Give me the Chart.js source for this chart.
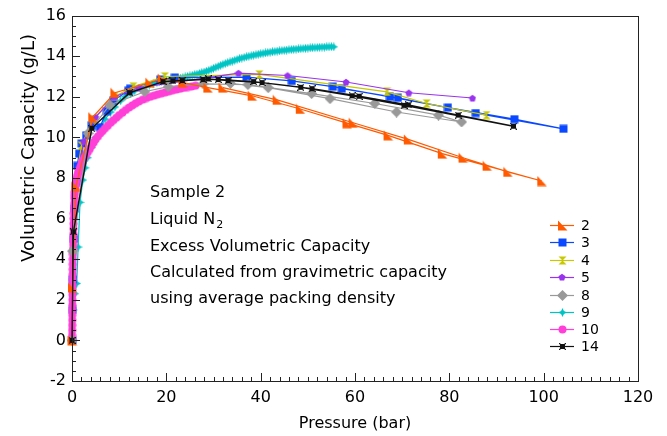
<!DOCTYPE html>
<html>
<head>
<meta charset="utf-8">
<script src="https://cdn.jsdelivr.net/npm/chart.js@4"></script>
<style>
html,body{margin:0;padding:0;background:#fff;}
#wrap{width:667px;height:436px;position:relative;}
</style>
</head>
<body>
<div id="wrap"><canvas id="c" width="667" height="436"></canvas></div>
<script>
// ---------- data (pressure in bar, volumetric capacity in g/L) ----------
const seriesNames = ["2","3","4","5","8","9","10","14"];

const s2x = [0, 0.1, 0.85, 4.4, 9.1, 16.5, 19.1, 23.5, 28.8, 38.2, 48.4, 58.3, 67.0, 78.5, 88.0, 99.6, 92.4, 82.9, 71.3, 59.6, 43.5, 32.0];
const s2y = [0, 2.6, 7.6, 11.0, 12.2, 12.7, 12.9, 12.7, 12.45, 12.05, 11.4, 10.7, 10.1, 9.2, 8.6, 7.85, 8.3, 9.0, 9.9, 10.72, 11.85, 12.45];

const s3x = [0, 0.1, 0.2, 0.4, 0.6, 0.9, 1.1, 1.5, 2.05, 3.0, 4.2, 5.9, 7.4, 8.7, 11.9, 12.3, 18.7, 21.8, 37.0, 46.6, 55.3, 67.4, 79.7, 93.8, 104.2, 85.6, 69.1, 57.2];
const s3y = [0, 1.5, 3.0, 5.0, 6.5, 7.8, 8.6, 9.2, 9.7, 10.1, 10.6, 10.5, 11.3, 11.8, 12.3, 12.4, 12.85, 12.95, 12.97, 12.78, 12.5, 12.0, 11.47, 10.9, 10.42, 11.2, 11.95, 12.4];

const s4x = [0, 0.3, 0.8, 2.0, 4.5, 9.0, 13.0, 19.7, 39.7, 66.8, 75.2, 87.9];
const s4y = [0, 4.5, 7.8, 9.6, 10.9, 12.0, 12.5, 13.0, 13.1, 12.24, 11.67, 11.1];

const s5x = [0, 0.4, 1.0, 2.5, 5.0, 9.0, 14.2, 35.3, 45.7, 58.1, 71.4, 84.9];
const s5y = [0, 5.0, 8.0, 9.8, 11.0, 12.0, 12.45, 13.17, 13.05, 12.73, 12.2, 11.94];

const s8x = [0, 0.1, 3.4, 8.0, 15.4, 20.4, 27.8, 37.3, 50.8, 64.2, 77.7, 82.6, 68.8, 54.7, 41.6, 33.6];
const s8y = [0, 4.4, 10.2, 11.6, 12.25, 12.5, 12.64, 12.6, 12.16, 11.67, 11.1, 10.76, 11.25, 11.91, 12.45, 12.66];

const s9x = [0, 0.3, 0.6, 1.0, 1.3, 1.7, 2.3, 2.8, 3.3, 4.1, 5.0, 6.1, 7.0, 8.2, 9.1, 10.3, 11.2, 12.4, 13.3, 14.5, 15.6, 16.4, 17.2,
  18, 18.5, 19, 19.5, 20, 20.5, 21, 21.5, 22, 22.5, 23, 23.5, 24, 24.5, 25, 25.5, 26, 26.5, 27, 27.5, 28, 28.5, 29, 29.5, 30, 30.5,
  31, 31.5, 32, 32.5, 33, 33.5, 34, 34.5, 35, 35.5, 36, 36.5, 37, 37.5, 38, 38.5, 39, 39.5, 40, 40.5, 41, 41.5, 42, 42.5, 43, 43.5,
  44, 44.5, 45, 45.5, 46, 46.5, 47, 47.5, 48, 48.5, 49, 49.5, 50, 50.5, 51, 51.5, 52, 52.5, 53, 53.5, 54, 54.5, 55, 55.5];
const s9y = [0, 1.5, 2.3, 2.8, 4.6, 6.8, 7.9, 8.5, 9.0, 9.5, 10.0, 10.5, 10.9, 11.25, 11.5, 11.8, 12.0, 12.15, 12.3, 12.42, 12.5, 12.58, 12.65,
  12.72, 12.74, 12.76, 12.78, 12.8, 12.82, 12.84, 12.86, 12.88, 12.9, 12.92, 12.95, 12.98, 13.0, 13.03, 13.06, 13.09, 13.12, 13.15, 13.19, 13.22, 13.26, 13.3, 13.35, 13.4, 13.45,
  13.5, 13.55, 13.6, 13.64, 13.68, 13.72, 13.76, 13.8, 13.84, 13.88, 13.91, 13.94, 13.97, 14.0, 14.02, 14.05, 14.07, 14.1, 14.12, 14.14, 14.16, 14.18, 14.2, 14.22, 14.23, 14.25,
  14.26, 14.28, 14.29, 14.3, 14.32, 14.33, 14.34, 14.35, 14.36, 14.37, 14.38, 14.39, 14.4, 14.41, 14.42, 14.42, 14.43, 14.44, 14.45, 14.45, 14.46, 14.46, 14.47, 14.46];

const s10x = [0, 0.01, 0.02, 0.03, 0.04, 0.05, 0.06, 0.07, 0.08, 0.09, 0.1, 0.11, 0.12, 0.14, 0.15, 0.17, 0.18, 0.2, 0.22, 0.24, 0.26, 0.28, 0.3, 0.33, 0.36, 0.4, 0.43, 0.47, 0.5, 0.55, 0.6, 0.67, 0.75, 0.82, 0.9, 1.0, 1.1, 1.2, 1.3, 1.4, 1.5, 1.75, 2.0, 2.3, 2.6, 3.0, 3.4, 3.8, 4.2, 4.6, 5.0, 5.5, 6.0, 6.5, 7.0, 7.6, 8.2, 8.8, 9.4, 10.0, 10.7, 11.4, 12.1, 12.8, 13.5, 14.2, 15.0, 15.8, 16.6, 17.4, 18.2, 19.0, 19.8, 20.6, 21.4, 22.2, 23.0, 23.8, 24.6, 25.4, 26.2];
const s10y = [0, 0.25, 0.5, 0.75, 1.0, 1.25, 1.5, 1.75, 2.0, 2.25, 2.5, 2.75, 3.0, 3.25, 3.5, 3.75, 4.0, 4.25, 4.5, 4.75, 5.0, 5.25, 5.5, 5.75, 6.0, 6.25, 6.5, 6.75, 7.0, 7.15, 7.3, 7.45, 7.6, 7.72, 7.85, 7.95, 8.05, 8.15, 8.25, 8.32, 8.4, 8.55, 8.7, 8.85, 9.0, 9.15, 9.3, 9.45, 9.6, 9.75, 9.9, 10.05, 10.2, 10.32, 10.45, 10.58, 10.72, 10.85, 10.97, 11.1, 11.22, 11.35, 11.47, 11.58, 11.68, 11.77, 11.86, 11.94, 12.0, 12.06, 12.12, 12.17, 12.22, 12.27, 12.32, 12.36, 12.4, 12.44, 12.48, 12.51, 12.55];

const s14x = [0, 0.3, 4.2, 12.2, 19.3, 23.4, 28.9, 33.1, 40.3, 50.9, 60.9, 71.3, 81.9, 93.6, 70.4, 59.4, 48.5, 38.5, 31.0, 27.8, 21.4];
const s14y = [0, 5.35, 10.45, 12.2, 12.75, 12.8, 12.88, 12.8, 12.7, 12.4, 12.03, 11.6, 11.1, 10.55, 11.58, 12.05, 12.47, 12.75, 12.85, 12.85, 12.78];

const xTickStep = 20, yTickStep = 2;
const xMin = 0, xMax = 120, yMin = -2, yMax = 16;
const noteLines = ["Sample 2", "Liquid N", "Excess Volumetric Capacity", "Calculated from gravimetric capacity", "using average packing density"];
const xTitle = "Pressure (bar)";
const yTitle = "Volumetric Capacity (g/L)";

// ---------- marker images ----------
function marker(shape, color, size) {
  const c = document.createElement('canvas');
  c.width = size; c.height = size;
  const g = c.getContext('2d');
  const s = size, m = s / 2;
  g.fillStyle = color; g.strokeStyle = color;
  g.beginPath();
  if (shape === 'rtri') { g.moveTo(1, 0.5); g.lineTo(1, s - 0.5); g.lineTo(s - 0.5, s - 0.5); g.closePath(); g.fill(); }
  else if (shape === 'square') { g.fillRect(0.5, 0.5, s - 1, s - 1); }
  else if (shape === 'hourglass') { g.moveTo(0.5, 0.5); g.lineTo(s - 0.5, 0.5); g.lineTo(0.5, s - 0.5); g.lineTo(s - 0.5, s - 0.5); g.closePath(); g.fill(); }
  else if (shape === 'pent') { for (let i = 0; i < 5; i++) { const a = -Math.PI / 2 + i * 2 * Math.PI / 5; const r = m - 0.3; const px = m + r * Math.cos(a), py = m + 0.5 + r * Math.sin(a); i ? g.lineTo(px, py) : g.moveTo(px, py); } g.closePath(); g.fill(); }
  else if (shape === 'diamond') { g.moveTo(m, 0); g.lineTo(s, m); g.lineTo(m, s); g.lineTo(0, m); g.closePath(); g.fill(); }
  else if (shape === 'star') { const r1 = m, r2 = m * 0.45; for (let i = 0; i < 8; i++) { const a = -Math.PI / 2 + i * Math.PI / 4; const r = i % 2 ? r2 : r1; const px = m + r * Math.cos(a), py = m + r * Math.sin(a); i ? g.lineTo(px, py) : g.moveTo(px, py); } g.closePath(); g.fill(); }
  else if (shape === 'circle') { g.arc(m, m, m - 0.5, 0, Math.PI * 2); g.fill(); }
  else if (shape === 'xsq') { g.fillRect(1, 1, s - 2, s - 2); g.lineWidth = 1.2; g.beginPath(); g.moveTo(0, 0); g.lineTo(s, s); g.moveTo(s, 0); g.lineTo(0, s); g.stroke(); }
  return c;
}

const styles = {
  "2":  { color: '#FF5A00', shape: 'rtri', size: 11, order: 1 },
  "3":  { color: '#0A48FF', shape: 'square', size: 9, order: 6 },
  "4":  { color: '#C8C800', shape: 'hourglass', size: 9, order: 5 },
  "5":  { color: '#9933EE', shape: 'pent', size: 8, order: 4 },
  "8":  { color: '#999999', shape: 'diamond', size: 11, order: 2 },
  "9":  { color: '#00C4C4', shape: 'star', size: 9, order: 7 },
  "10": { color: '#FF3FD8', shape: 'circle', size: 9, order: 3 },
  "14": { color: '#111111', shape: 'xsq', size: 7, order: 0 }
};
const xs = [s2x, s3x, s4x, s5x, s8x, s9x, s10x, s14x];
const ys = [s2y, s3y, s4y, s5y, s8y, s9y, s10y, s14y];

const datasets = seriesNames.map((n, i) => {
  const st = styles[n];
  const img = marker(st.shape, st.color, st.size);
  return {
    label: n,
    data: xs[i].map((x, k) => ({ x: x, y: ys[i][k] })),
    showLine: true,
    borderColor: st.color,
    backgroundColor: st.color,
    borderWidth: n === "14" ? 1.4 : (n === "10" ? 3 : 1.2),
    pointStyle: img,
    pointRadius: st.size / 2,
    order: st.order,
    tension: 0,
    clip: false,
    _img: img
  };
});

const FONT = '"DejaVu Sans", sans-serif';

const decor = {
  id: 'decor',
  afterDraw(chart) {
    const g = chart.ctx;
    const a = chart.chartArea;
    const xs_ = chart.scales.x, ys_ = chart.scales.y;
    g.save();
    g.strokeStyle = '#222'; g.lineWidth = 1;
    g.strokeRect(Math.round(a.left) + 0.5, Math.round(a.top) + 0.5, Math.round(a.right - a.left), Math.round(a.bottom - a.top));
    g.beginPath();
    for (let v = xMin; v <= xMax + 1e-9; v += 2) {
      const px = Math.round(xs_.getPixelForValue(v)) + 0.5;
      const len = (Math.abs(v % xTickStep) < 1e-9) ? 8 : 4;
      g.moveTo(px, a.bottom); g.lineTo(px, a.bottom - len);
    }
    for (let v = yMin; v <= yMax + 1e-9; v += 0.5) {
      const py = Math.round(ys_.getPixelForValue(v)) + 0.5;
      const len = (Math.abs((v - yMin) % yTickStep) < 1e-9) ? 8 : 4;
      g.moveTo(a.left, py); g.lineTo(a.left + len, py);
    }
    g.stroke();
    g.fillStyle = '#000';
    g.font = '16px ' + FONT;
    g.textAlign = 'center'; g.textBaseline = 'middle';
    g.fillText(xTitle, (a.left + a.right) / 2, 424);
    g.save();
    g.translate(29, 148); g.rotate(-Math.PI / 2);
    g.font = '18px ' + FONT;
    g.fillText(yTitle, 0, 0);
    g.restore();
    g.textAlign = 'left'; g.textBaseline = 'middle';
    g.font = '16px ' + FONT;
    const ny = [193, 220, 247, 273, 299];
    noteLines.forEach((t, i) => {
      g.fillText(t, 150, ny[i]);
      if (i === 1) {
        const w = g.measureText(t).width;
        g.font = '11px ' + FONT;
        g.fillText('2', 150 + w + 1, ny[i] + 5);
        g.font = '16px ' + FONT;
      }
    });
    const ly = [225, 242, 260, 277, 295, 312, 329, 346];
    g.font = '14px ' + FONT;
    seriesNames.forEach((n, i) => {
      const ds = chart.data.datasets[i];
      const y = ly[i];
      g.strokeStyle = ds.borderColor; g.lineWidth = 1.2;
      g.beginPath(); g.moveTo(550, y + 0.5); g.lineTo(574, y + 0.5); g.stroke();
      const img = ds._img;
      g.drawImage(img, Math.round(562 - img.width / 2), Math.round(y - img.height / 2));
      g.fillStyle = '#000';
      g.fillText(n, 581, y + 1);
    });
    g.restore();
  }
};

new Chart(document.getElementById('c'), {
  type: 'scatter',
  data: { datasets: datasets },
  options: {
    responsive: false,
    animation: false,
    layout: { padding: { left: 0, top: 15, right: 29, bottom: 0 } },
    plugins: { legend: { display: false }, tooltip: { enabled: false } },
    scales: {
      x: {
        type: 'linear', min: xMin, max: xMax,
        grid: { display: false, drawTicks: false },
        border: { display: false },
        ticks: { stepSize: xTickStep, autoSkip: false, maxRotation: 0, color: '#000', padding: 7, font: { family: FONT, size: 16 } },
        afterFit(s) { s.height = 55; }
      },
      y: {
        type: 'linear', min: yMin, max: yMax,
        grid: { display: false, drawTicks: false },
        border: { display: false },
        ticks: { stepSize: yTickStep, autoSkip: false, color: '#000', padding: 6, font: { family: FONT, size: 16 } },
        afterFit(s) { s.width = 72; }
      }
    }
  },
  plugins: [decor]
});
</script>
</body>
</html>
